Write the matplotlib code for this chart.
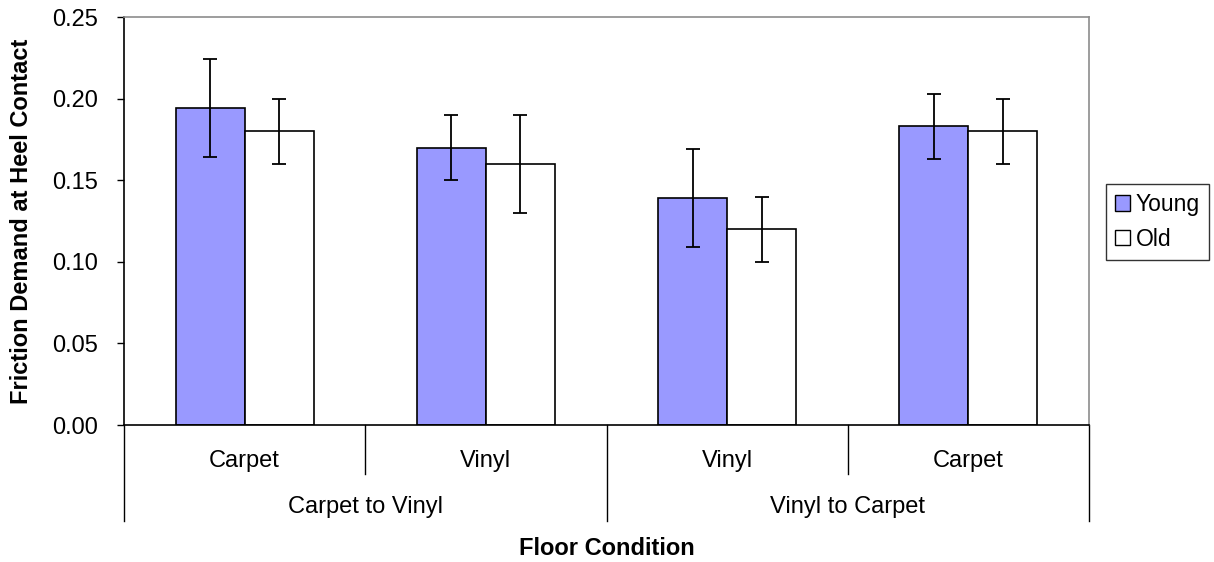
import numpy as np
import matplotlib
matplotlib.use('Agg')
import matplotlib.pyplot as plt
from matplotlib.patches import Patch

plt.rcParams['font.family'] = ['Liberation Sans', 'DejaVu Sans']

surfaces = ['Carpet', 'Vinyl', 'Vinyl', 'Carpet']
transitions = ['Carpet to Vinyl', 'Vinyl to Carpet']
young = [0.194, 0.170, 0.139, 0.183]
young_err = [0.030, 0.020, 0.030, 0.020]
old = [0.180, 0.160, 0.120, 0.180]
old_err = [0.020, 0.030, 0.020, 0.020]

fs = 17

fig = plt.figure(figsize=(12.14, 5.62), dpi=100)
ax = fig.add_axes([124/1214, 1-425/562, 965/1214, 408/562])

x = np.arange(len(surfaces))
w = 0.286
ekw = dict(elinewidth=1.3, capthick=1.3, ecolor='black')
ax.bar(x - w/2, young, w, color='#9999ff', edgecolor='black', linewidth=1.2,
       yerr=young_err, capsize=5, error_kw=ekw, zorder=2)
ax.bar(x + w/2, old, w, color='white', edgecolor='black', linewidth=1.2,
       yerr=old_err, capsize=5, error_kw=ekw, zorder=2)

ax.set_xlim(-0.5, len(surfaces) - 0.5)
ax.set_ylim(0, 0.25)
ax.set_yticks(np.arange(0, 0.26, 0.05))
ax.set_yticklabels(['%.2f' % v for v in np.arange(0, 0.26, 0.05)], fontsize=fs)
ax.tick_params(axis='y', direction='out', length=5, width=1, pad=14)
ax.set_xticks([])

for s in ['top', 'right']:
    ax.spines[s].set_color('#8c8c8c')
    ax.spines[s].set_linewidth(1.2)
for s in ['left', 'bottom']:
    ax.spines[s].set_color('black')
    ax.spines[s].set_linewidth(1.2)

# two level category axis
trans = ax.get_xaxis_transform()
for i, lab in enumerate(surfaces):
    ax.text(x[i], -0.088, lab, transform=trans, ha='center', va='center', fontsize=fs)
for k, lab in enumerate(transitions):
    ax.text(2*k + 0.5, -0.2, lab, transform=trans, ha='center', va='center', fontsize=fs)
for b in np.arange(-0.5, len(surfaces), 1.0):
    outer = (b + 0.5) % 2 == 0
    y0 = -0.235 if outer else -0.12
    ax.plot([b, b], [0, y0], transform=trans, color='black', lw=1, clip_on=False)

ax.text(0.5, -0.302, 'Floor Condition', transform=ax.transAxes, ha='center', va='center',
        fontsize=fs, fontweight='bold')
ax.set_ylabel('Friction Demand at Heel Contact', fontsize=fs, fontweight='bold', va='center')
ax.yaxis.set_label_coords(-0.106, 0.5)

handles = [Patch(facecolor='#9999ff', edgecolor='black', label='Young'),
           Patch(facecolor='white', edgecolor='black', label='Old')]
leg = fig.legend(handles=handles, loc='upper left', bbox_to_anchor=(1106/1214, 1-184/562),
                 fontsize=16.5, frameon=True, fancybox=False, handlelength=0.65,
                 handleheight=0.65, handletextpad=0.25, borderpad=0.4, labelspacing=0.5,
                 borderaxespad=0)
leg.get_frame().set_edgecolor('black')
leg.get_frame().set_linewidth(1)

fig.savefig('out.png', dpi=100)
